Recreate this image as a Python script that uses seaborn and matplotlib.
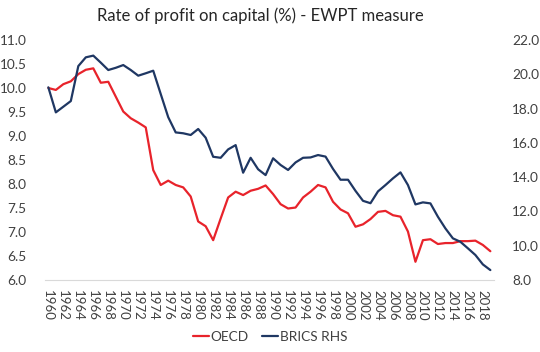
import matplotlib
matplotlib.use("Agg")
import matplotlib.pyplot as plt
import numpy as np
import pandas as pd
import seaborn as sns

# %% data
years = list(range(1960, 2020))
oecd = [10.00, 9.96, 10.08, 10.14, 10.29, 10.38, 10.41, 10.11, 10.13, 9.82,
        9.51, 9.37, 9.28, 9.18, 8.29, 7.98, 8.07, 7.98, 7.93, 7.74,
        7.22, 7.12, 6.83, 7.28, 7.72, 7.84, 7.77, 7.86, 7.90, 7.97,
        7.79, 7.58, 7.49, 7.51, 7.72, 7.84, 7.98, 7.93, 7.63, 7.47,
        7.39, 7.11, 7.16, 7.27, 7.42, 7.44, 7.35, 7.32, 7.01, 6.38,
        6.83, 6.85, 6.75, 6.77, 6.77, 6.81, 6.81, 6.82, 6.73, 6.60]
brics = [19.24, 17.78, 18.11, 18.44, 20.48, 20.99, 21.09, 20.68, 20.25, 20.38,
         20.54, 20.25, 19.92, 20.06, 20.21, 18.85, 17.50, 16.61, 16.56, 16.46,
         16.81, 16.30, 15.19, 15.13, 15.62, 15.87, 14.26, 15.13, 14.46, 14.12,
         15.10, 14.71, 14.42, 14.86, 15.13, 15.15, 15.29, 15.20, 14.48, 13.85,
         13.85, 13.20, 12.62, 12.48, 13.17, 13.54, 13.93, 14.28, 13.54, 12.41,
         12.53, 12.47, 11.69, 11.01, 10.43, 10.23, 9.85, 9.46, 8.91, 8.58]
title = "Rate of profit on capital (%) - EWPT measure"

df = pd.DataFrame({"year": years, "OECD": oecd, "BRICS RHS": brics})

# %%
sns.set_style("white")
plt.rcParams["font.family"] = ["Lato", "DejaVu Sans"]
txt = "#404040"
red = "#E8232B"
navy = "#1F3763"

fig = plt.figure(figsize=(5.4, 3.52), dpi=100)
ax = fig.add_axes([0.0826, 0.2045, 0.8324, 0.6818])
ax2 = ax.twinx()

sns.lineplot(data=df, x="year", y="OECD", ax=ax, color=red, lw=1.6, label="OECD", legend=False)
sns.lineplot(data=df, x="year", y="BRICS RHS", ax=ax2, color=navy, lw=1.6, label="BRICS RHS", legend=False)

ax.set_xlim(1959.5, 2019.5)
ax.set_ylim(6.0, 11.0)
ax2.set_ylim(8.0, 22.0)
ax.set_yticks(np.arange(6.0, 11.01, 0.5))
ax2.set_yticks(np.arange(8.0, 22.01, 2.0))
ax.set_yticklabels([f"{v:.1f}" for v in ax.get_yticks()])
ax2.set_yticklabels([f"{v:.1f}" for v in ax2.get_yticks()])
ax.set_xticks(years[::2])
ax.set_xticklabels([str(y) for y in years[::2]], rotation=-90)

for a in (ax, ax2):
    for s in a.spines.values():
        s.set_visible(False)
    a.set_xlabel("")
    a.set_ylabel("")
ax.spines["bottom"].set_visible(True)
ax.spines["bottom"].set_color("#D9D9D9")
ax.tick_params(axis="y", length=0, pad=13, labelsize=9.8, labelcolor=txt)
ax2.tick_params(axis="y", length=0, pad=13, labelsize=9.8, labelcolor=txt)
ax.tick_params(axis="x", length=0, pad=7, labelsize=9.5, labelcolor=txt)

fig.text(0.483, 0.955, title, ha="center", va="center", fontsize=12, color="#262626")

h1, l1 = ax.get_legend_handles_labels()
h2, l2 = ax2.get_legend_handles_labels()
fig.legend(h1 + h2, l1 + l2, loc="center", bbox_to_anchor=(0.5, 0.042), ncol=2,
           frameon=False, fontsize=9.8, labelcolor=txt, handlelength=1.2,
           handletextpad=0.1, columnspacing=1.0)

fig.savefig("out.png", dpi=100)
